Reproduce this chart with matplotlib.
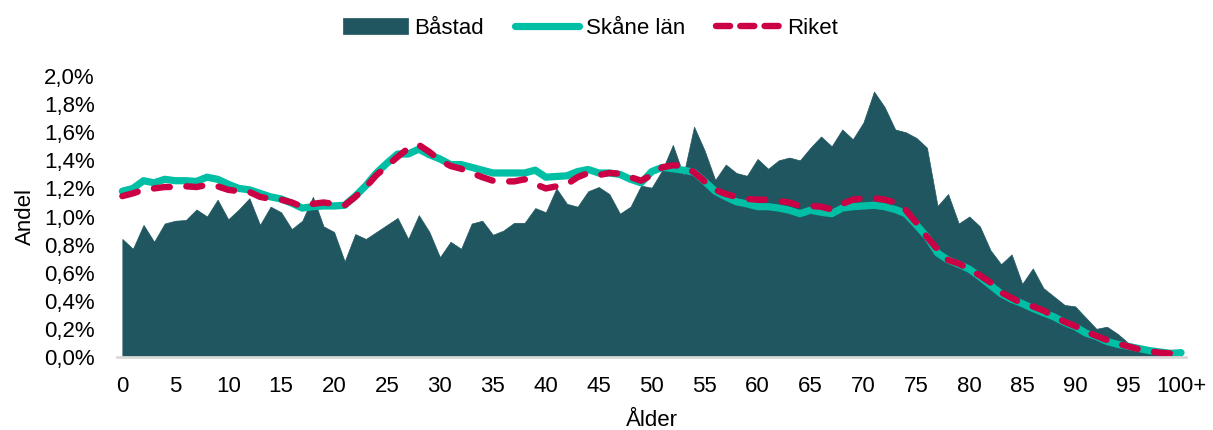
import numpy as np
import matplotlib
matplotlib.use("Agg")
import matplotlib.pyplot as plt
from matplotlib.ticker import FuncFormatter

plt.rcParams['font.family'] = ['Liberation Sans', 'DejaVu Sans']

# andel av befolkningen per ålder, i procent
alder = list(range(101))

bastad = [0.84, 0.77, 0.94, 0.82, 0.95, 0.97, 0.975, 1.05, 1.00, 1.12,
          0.98, 1.05, 1.13, 0.94, 1.07, 1.03, 0.91, 0.97, 1.14, 0.93,
          0.89, 0.68, 0.875, 0.84, 0.89, 0.94, 0.99, 0.84, 1.01, 0.89,
          0.71, 0.82, 0.77, 0.95, 0.97, 0.87, 0.90, 0.955, 0.955, 1.06,
          1.03, 1.20, 1.09, 1.07, 1.18, 1.21, 1.16, 1.02, 1.07, 1.22,
          1.205, 1.33, 1.51, 1.295, 1.64, 1.47, 1.26, 1.37, 1.31, 1.29,
          1.41, 1.34, 1.40, 1.42, 1.40, 1.49, 1.57, 1.50, 1.62, 1.55,
          1.67, 1.89, 1.78, 1.62, 1.60, 1.56, 1.49, 1.075, 1.16, 0.95,
          1.00, 0.93, 0.76, 0.66, 0.73, 0.52, 0.63, 0.49, 0.43, 0.37,
          0.36, 0.28, 0.20, 0.215, 0.165, 0.10, 0.08, 0.06, 0.04, 0.03,
          0.02]

skane = [1.18, 1.20, 1.255, 1.24, 1.265, 1.255, 1.255, 1.25, 1.28, 1.265,
         1.23, 1.20, 1.19, 1.165, 1.14, 1.125, 1.095, 1.06, 1.07, 1.075,
         1.075, 1.08, 1.145, 1.22, 1.31, 1.38, 1.445, 1.445, 1.48, 1.44,
         1.41, 1.37, 1.37, 1.35, 1.33, 1.31, 1.31, 1.31, 1.31, 1.33,
         1.28, 1.285, 1.29, 1.32, 1.335, 1.31, 1.31, 1.30, 1.265, 1.24,
         1.32, 1.35, 1.34, 1.33, 1.315, 1.25, 1.18, 1.14, 1.105, 1.09,
         1.07, 1.07, 1.06, 1.045, 1.02, 1.045, 1.03, 1.02, 1.06, 1.07,
         1.075, 1.08, 1.07, 1.05, 1.02, 0.94, 0.855, 0.74, 0.69, 0.66,
         0.625, 0.57, 0.51, 0.45, 0.41, 0.38, 0.345, 0.315, 0.285, 0.245,
         0.215, 0.17, 0.145, 0.11, 0.09, 0.075, 0.06, 0.045, 0.035, 0.025,
         0.03]

riket = [1.145, 1.165, 1.19, 1.20, 1.21, 1.21, 1.215, 1.21, 1.225, 1.215,
         1.19, 1.18, 1.175, 1.14, 1.125, 1.12, 1.10, 1.07, 1.09, 1.10,
         1.09, 1.08, 1.14, 1.21, 1.295, 1.36, 1.425, 1.485, 1.51, 1.46,
         1.40, 1.36, 1.34, 1.31, 1.28, 1.255, 1.25, 1.25, 1.265, 1.23,
         1.20, 1.215, 1.23, 1.28, 1.31, 1.295, 1.31, 1.305, 1.28, 1.255,
         1.295, 1.35, 1.365, 1.36, 1.315, 1.25, 1.19, 1.16, 1.14, 1.125,
         1.12, 1.12, 1.11, 1.10, 1.075, 1.075, 1.07, 1.05, 1.09, 1.12,
         1.13, 1.13, 1.12, 1.10, 1.045, 0.955, 0.855, 0.765, 0.69, 0.665,
         0.625, 0.58, 0.53, 0.46, 0.42, 0.38, 0.36, 0.33, 0.29, 0.25,
         0.22, 0.18, 0.15, 0.12, 0.095, 0.075, 0.055, 0.04, 0.03, 0.025,
         0.02]

tick_pos = list(range(0, 101, 5))
tick_labels = [str(t) for t in range(0, 100, 5)] + ["100+"]

# färger
c_bastad = "#1F5660"
c_skane = "#00BFA5"
c_riket = "#CC0044"

fig = plt.figure(figsize=(12.13, 4.30), dpi=100)
ax = fig.add_axes([0.0965, 0.170, 0.8815, 0.653])

ax.fill_between(alder, 0, bastad, color=c_bastad, lw=0.5, label="Båstad")
ax.plot(alder, skane, color=c_skane, lw=5.2, solid_capstyle="round",
        solid_joinstyle="round", label="Skåne län")
ax.plot(alder, riket, color=c_riket, lw=4.6, dashes=(2.5, 2.6),
        dash_capstyle="round", label="Riket")

ax.set_xlim(-0.5, 100.5)
ax.set_ylim(0, 2.0)
ax.set_yticks(np.arange(0, 2.01, 0.2))
ax.yaxis.set_major_formatter(FuncFormatter(lambda v, p: f"{v:.1f}%".replace(".", ",")))
ax.set_xticks(tick_pos)
ax.set_xticklabels(tick_labels)

ax.tick_params(axis="both", length=0, labelsize=16)
ax.tick_params(axis="x", pad=14)
ax.tick_params(axis="y", pad=16)

for s in ["top", "right", "left"]:
    ax.spines[s].set_visible(False)
ax.spines["bottom"].set_color("#D9D9D9")
ax.spines["bottom"].set_linewidth(2)

ax.set_xlabel("Ålder", fontsize=16, labelpad=9)
ax.set_ylabel("Andel", fontsize=16, labelpad=6)

leg = fig.legend(loc="upper center", bbox_to_anchor=(0.487, 1.0), ncol=3,
                 frameon=False, fontsize=16, handlelength=2.9,
                 handletextpad=0.3, columnspacing=1.4, borderaxespad=0.4)
# streckmönstret i förklaringen ska börja med ett streck
leg.get_lines()[-1].set_dashes((2.2, 1.6))

fig.savefig("out.png", dpi=100)
